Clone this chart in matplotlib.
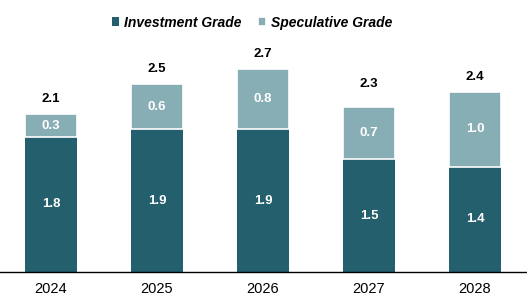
import matplotlib
matplotlib.use("Agg")
import matplotlib.pyplot as plt
import numpy as np

years = ["2024", "2025", "2026", "2027", "2028"]
investment = [1.8, 1.9, 1.9, 1.5, 1.4]
speculative = [0.3, 0.6, 0.8, 0.7, 1.0]
totals = [2.1, 2.5, 2.7, 2.3, 2.4]

plt.rcParams['font.family'] = ['Liberation Sans', 'DejaVu Sans']
dark = "#245F6D"
light = "#88AEB5"

fig = plt.figure(figsize=(5.27, 3.05), dpi=100)
ax = fig.add_axes([0, 33/305, 1, (272-40)/305])
x = np.arange(len(years))
w = 0.49
ax.bar(x, investment, w, color=dark, label="Investment Grade")
ax.bar(x, speculative, w, bottom=investment, color=light, label="Speculative Grade",
       edgecolor="white", linewidth=1.2)
for i in range(len(years)):
    ax.text(x[i], investment[i]/2, f"{investment[i]:.1f}", ha="center", va="center",
            color="white", fontsize=9.5, fontweight="bold")
    ax.text(x[i], investment[i] + speculative[i]/2, f"{speculative[i]:.1f}", ha="center",
            va="center", color="white", fontsize=9.5, fontweight="bold")
    ax.text(x[i], totals[i] + 0.2, f"{totals[i]:.1f}", ha="center", va="center",
            color="black", fontsize=9.5, fontweight="bold")
ax.set_xlim(-0.48, 4.49)
ax.set_ylim(0, 3.09)
ax.set_xticks(x)
ax.set_xticklabels(years, fontsize=10.5)
ax.tick_params(axis="x", length=0, pad=7)
ax.set_yticks([])
for s in ["top", "right", "left"]:
    ax.spines[s].set_visible(False)
ax.spines["bottom"].set_linewidth(1.0)
leg = fig.legend(loc="upper center", bbox_to_anchor=(0.478, 0.99), ncol=2, frameon=False,
                 prop={"style": "italic", "weight": "bold", "size": 10},
                 handlelength=0.55, handleheight=0.55, handletextpad=0.35, columnspacing=1.2)
fig.savefig("out.png", dpi=100)
